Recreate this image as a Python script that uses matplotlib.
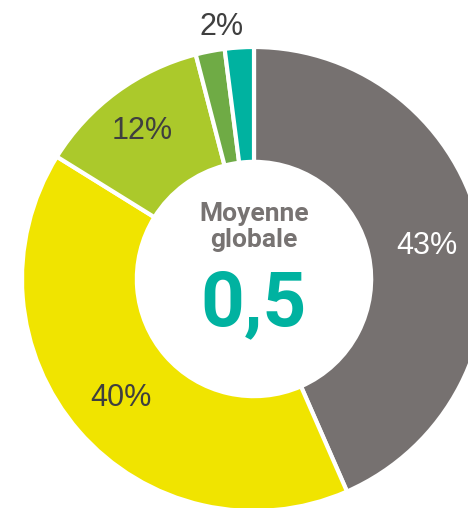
"""Donut chart: distribution with overall mean in the centre."""

import matplotlib

matplotlib.use("Agg")
import matplotlib.pyplot as plt
import numpy as np

values = [43, 40, 12, 2, 2]
labels = ["43%", "40%", "12%", "", ""]
colors = ["#767170", "#f0e400", "#abc92b", "#6fab45", "#00b2a0"]
label_colors = ["white", "#3f3f3f", "#3f3f3f", "#3f3f3f", "#3f3f3f"]
small_label = "2%"
center_title = "Moyenne\nglobale"
center_value = "0,5"

W, H = 468, 508
CX, CY, R = 254, 229, 232

fig = plt.figure(figsize=(W / 100, H / 100), dpi=100)
ax = fig.add_axes([0, 0, 1, 1])

wedges, texts = ax.pie(
    values,
    center=(CX, CY),
    radius=R,
    startangle=90,
    counterclock=False,
    colors=colors,
    labels=labels,
    labeldistance=0.76,
    wedgeprops=dict(width=R * 0.495, edgecolor="white", linewidth=3),
    textprops=dict(fontsize=22, family="Liberation Sans"),
)
# pie() resets the limits, so set the pixel-like frame afterwards
ax.set_xlim(0, W)
ax.set_ylim(0, H)
ax.set_aspect("equal")
ax.axis("off")

for t, c in zip(texts, label_colors):
    t.set_color(c)
    t.set_ha("center")
    t.set_va("center_baseline")
x12, y12 = texts[2].get_position()
texts[2].set_position((CX + (x12 - CX) * 1.07, CY + (y12 - CY) * 1.07))

# single label above the two small slices
theta = np.deg2rad(wedges[3].theta1)
ax.text(CX + R * 1.11 * np.cos(theta), CY + R * 1.11 * np.sin(theta),
        small_label, ha="center", va="center_baseline", fontsize=22,
        family="Liberation Sans", color="#3f3f3f")

ax.text(CX, CY + 52, center_title, ha="center", va="center", fontsize=19,
        fontweight="bold", family="Roboto", color="#777372", linespacing=1.1)
ax.text(CX, CY - 26, center_value, ha="center", va="center", fontsize=55,
        fontweight="bold", family="Roboto", color="#00b2a0")

fig.savefig("out.png", dpi=100)
